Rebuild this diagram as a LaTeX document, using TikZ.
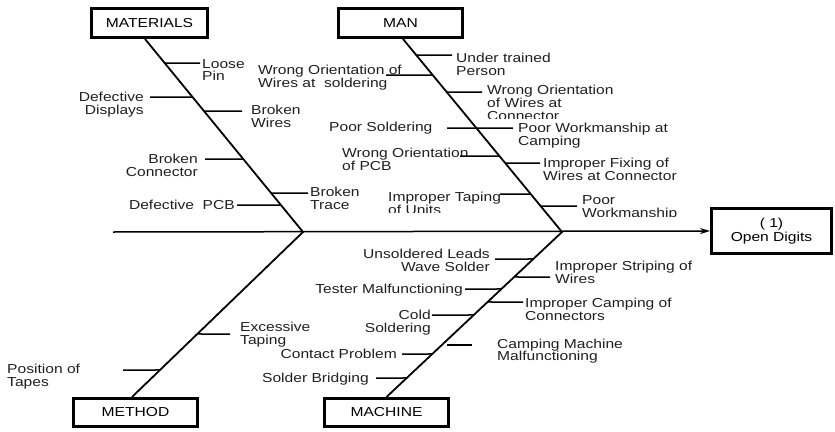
\documentclass[tikz,border=0pt]{standalone}
\usepackage{fontspec}
\setmainfont{Liberation Sans}[FakeStretch=1.2]
\usetikzlibrary{arrows.meta,calc}
\begin{document}
\begin{tikzpicture}[x=1pt,y=-1pt,
  lbl/.style={inner sep=0pt, font=\fontsize{13}{12.8}\selectfont, text=black!88},
  lblL/.style={lbl, align=left, anchor=base west},
  lblR/.style={lbl, align=right, anchor=base east},
  catbox/.style={draw, line width=3pt, inner sep=0pt, font=\fontsize{13}{14}\selectfont},
  bone/.style={line width=1.8pt},
  tick/.style={line width=1.5pt}]
\useasboundingbox (0,0) rectangle (835,431);

% category boxes
\node[catbox, minimum width=116pt, minimum height=29pt] (mat) at (149.5,23) {MATERIALS};
\node[catbox, minimum width=124pt, minimum height=29pt] (man) at (400.5,23) {MAN};
\node[catbox, minimum width=124pt, minimum height=28pt] (meth) at (135.5,412.5) {METHOD};
\node[catbox, minimum width=124pt, minimum height=28pt] (mach) at (386.5,412.5) {MACHINE};
\node[catbox, minimum width=120pt, minimum height=45pt, align=center] (od) at (771.5,231) {( 1)\\Open Digits};

% spine and bones
\coordinate (sp) at (113,232);
\coordinate (j1) at (303,232);
\coordinate (j2) at (562,232);
\coordinate (matA) at ([xshift=-4.5pt]mat.south);
\coordinate (manA) at ([xshift=2.5pt]man.south);
\coordinate (methA) at ([xshift=-3.5pt]meth.north);
\coordinate (machA) at (mach.north);
\draw[line width=1.5pt, -{Stealth[length=10pt,width=6pt]}] (sp) -- (od.west);
\draw[bone] (matA) -- (j1) -- (methA);
\draw[bone] (manA) -- (j2) -- (machA);

% ---- MATERIALS causes
\node[lblL] (loose) at (202,80.8) {Loose\\Pin};
\coordinate (looseT) at (200,63);
\draw[tick] (looseT) -- (intersection of matA--j1 and 0,63--900,63);

\node[lblR] (ddisp) at (144,114.3) {Defective\\Displays};
\coordinate (ddispT) at (150,97);
\draw[tick] (ddispT) -- (intersection of matA--j1 and 0,97--900,97);

\node[lblL] (bwires) at (251,127.3) {Broken\\Wires};
\coordinate (bwiresT) at (242,111);
\draw[tick] (bwiresT) -- (intersection of matA--j1 and 0,111--900,111);

\node[lblR] (bconn) at (198,176.3) {Broken\\Connector};
\coordinate (bconnT) at (205,159);
\draw[tick] (bconnT) -- (intersection of matA--j1 and 0,159--900,159);

\node[lblL] (btrace) at (310,209.3) {Broken\\Trace};
\coordinate (btraceT) at (308,193);
\draw[tick] (btraceT) -- (intersection of matA--j1 and 0,193--900,193);

\node[lblR] (dpcb) at (235,209.5) {Defective\ \ PCB};
\coordinate (dpcbT) at (237,205);
\draw[tick] (dpcbT) -- (intersection of matA--j1 and 0,205--900,205);

% ---- MAN causes (left)
\node[lblL] (wos) at (258,87.3) {Wrong Orientation of\\Wires at\ \ soldering};
\coordinate (wosT) at (386,75);
\draw[tick] (wosT) -- (intersection of manA--j2 and 0,75--900,75);

\node[lblL] (psold) at (329,131.5) {Poor Soldering};
\coordinate (psoldT) at (447,128);
\draw[tick] (psoldT) -- (intersection of manA--j2 and 0,128--900,128);

\node[lblL] (wpcb) at (342,170.3) {Wrong Orientation\\of PCB};
\coordinate (wpcbT) at (460,156);
\draw[tick] (wpcbT) -- (intersection of manA--j2 and 0,156--900,156);

\begin{scope}
\clip (380,185) rectangle (520,212);
\node[lblL] (itap) at (388,214.3) {Improper Taping\\of Units};
\end{scope}
\coordinate (itapT) at (500,194);
\draw[tick] (itapT) -- (intersection of manA--j2 and 0,194--900,194);

% ---- MAN causes (right)
\node[lblL] (under) at (456,75.3) {Under trained\\Person};
\coordinate (underT) at (452,55);
\draw[tick] (intersection of manA--j2 and 0,55--900,55) -- (underT);

\begin{scope}
\clip (480,80) rectangle (650,118.3);
\node[lblL] (woc) at (487,120.1) {Wrong Orientation\\of Wires at\\Connector};
\end{scope}
\coordinate (wocT) at (482,92);
\draw[tick] (intersection of manA--j2 and 0,92--900,92) -- (wocT);

\node[lblL] (pwc) at (518,145.3) {Poor Workmanship at\\Camping};
\coordinate (pwcT) at (513,128);
\draw[tick] (intersection of manA--j2 and 0,128--900,128) -- (pwcT);

\node[lblL] (ifix) at (543,180.3) {Improper Fixing of\\Wires at Connector};
\coordinate (ifixT) at (540,163);
\draw[tick] (intersection of manA--j2 and 0,163--900,163) -- (ifixT);

\begin{scope}
\clip (575,190) rectangle (700,216.5);
\node[lblL] (pwork) at (582,217.3) {Poor\\Workmanship};
\end{scope}
\coordinate (pworkT) at (577,206);
\draw[tick] (intersection of manA--j2 and 0,206--900,206) -- (pworkT);

% ---- MACHINE causes
\node[lblR] (unsold) at (490,271.3) {Unsoldered Leads\\Wave Solder};
\coordinate (unsoldT) at (495,259);
\draw[tick] (unsoldT) -- (intersection of machA--j2 and 0,259--900,259);

\node[lblL] (istrip) at (555,283.3) {Improper Striping of\\Wires};
\coordinate (istripT) at (550,277);
\draw[tick] (intersection of machA--j2 and 0,277--900,277) -- (istripT);

\node[lblR] (tester) at (463,293.5) {Tester Malfunctioning};
\coordinate (testerT) at (465,289);
\draw[tick] (testerT) -- (intersection of machA--j2 and 0,289--900,289);

\node[lblL] (icamp) at (525,320.3) {Improper Camping of\\Connectors};
\coordinate (icampT) at (523,302);
\draw[tick] (intersection of machA--j2 and 0,302--900,302) -- (icampT);

\node[lblR] (cold) at (431,332.3) {Cold\\Soldering};
\coordinate (coldT) at (432,315);
\draw[tick] (coldT) -- (intersection of machA--j2 and 0,315--900,315);

\node[lblL] (cmach) at (497,360.8) {Camping Machine\\Malfunctioning};
\coordinate (cmachA) at (447,345);
\coordinate (cmachT) at (472,345);
\draw[tick] (cmachA) -- (cmachT);

\node[lblR] (contact) at (397,358.5) {Contact Problem};
\coordinate (contactT) at (402,354);
\draw[tick] (contactT) -- (intersection of machA--j2 and 0,354--900,354);

\node[lblR] (sbridge) at (369,382.5) {Solder Bridging};
\coordinate (sbridgeT) at (376,378);
\draw[tick] (sbridgeT) -- (intersection of machA--j2 and 0,378--900,378);

% ---- METHOD causes
\node[lblL] (excess) at (240,344.3) {Excessive\\Taping};
\coordinate (excessT) at (230,334);
\draw[tick] (intersection of methA--j1 and 0,334--900,334) -- (excessT);

\node[lblL] (postape) at (7,386.3) {Position of\\Tapes};
\coordinate (postapeT) at (123,370);
\draw[tick] (postapeT) -- (intersection of methA--j1 and 0,370--900,370);
\end{tikzpicture}
\end{document}
